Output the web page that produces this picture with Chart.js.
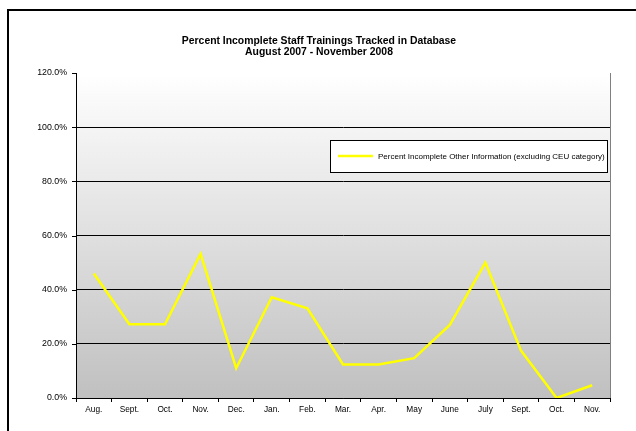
<!DOCTYPE html>
<html>
<head>
<meta charset="utf-8">
<script src="https://cdn.jsdelivr.net/npm/chart.js@4.4.1/dist/chart.umd.min.js"></script>
<style>
    html, body { margin: 0; padding: 0; background: #fff; }
    #wrap { width: 636px; height: 431px; }
</style>
</head>
<body>
<div id="wrap"><canvas id="trainingChart" width="636" height="431"></canvas></div>
<script>
// months Aug 2007 - Nov 2008 (no Aug 2008 in the source)
const months = ['Aug.', 'Sept.', 'Oct.', 'Nov.', 'Dec.', 'Jan.', 'Feb.', 'Mar.',
                'Apr.', 'May', 'June', 'July', 'Sept.', 'Oct.', 'Nov.'];
const pctIncomplete = [46.0, 27.2, 27.2, 53.2, 11.0, 37.2, 33.1, 12.4,
                       12.4, 14.7, 27.0, 50.0, 17.5, 0.0, 4.7];
const seriesName = 'Percent Incomplete Other Information (excluding CEU category)';
const titleLines = ['Percent Incomplete Staff Trainings Tracked in Database', 'August 2007 - November 2008'];
const yTicks = [0, 20, 40, 60, 80, 100, 120];

const fontFamily = '"Liberation Sans", Arial, sans-serif';

// frame, gradient plot background, title and the inner legend box
const excelLook = {
    id: 'excelLook',
    beforeDraw(chart) {
        const ctx = chart.ctx;
        const a = chart.chartArea;
        ctx.save();
        ctx.fillStyle = '#fff';
        ctx.fillRect(0, 0, chart.width, chart.height);
        ctx.strokeStyle = '#000';
        ctx.lineWidth = 2;
        ctx.strokeRect(8, 10, 700, 600);
        const g = ctx.createLinearGradient(0, a.top, 0, a.bottom);
        g.addColorStop(0, '#ffffff');
        g.addColorStop(1, '#c0c0c0');
        ctx.fillStyle = g;
        ctx.fillRect(a.left, a.top, a.right - a.left, a.bottom - a.top);

        // title is centred on the frame, not on the plot
        ctx.fillStyle = '#000';
        ctx.font = 'bold 10.4px ' + fontFamily;
        ctx.textAlign = 'center';
        ctx.textBaseline = 'middle';
        titleLines.forEach((line, i) => ctx.fillText(line, 319, 41 + i * 11));
        ctx.restore();
    },
    afterDatasetsDraw(chart) {
        const ctx = chart.ctx;
        const a = chart.chartArea;
        ctx.save();
        ctx.strokeStyle = '#808080';
        ctx.lineWidth = 1;
        ctx.beginPath();
        ctx.moveTo(a.right + 0.5, a.top);
        ctx.lineTo(a.right + 0.5, a.bottom);
        ctx.stroke();

        // legend box inside the plot
        const ds = chart.data.datasets[0];
        const bx = 330, by = 140, bw = 277, bh = 32;
        ctx.fillStyle = '#fff';
        ctx.fillRect(bx, by, bw, bh);
        ctx.strokeStyle = '#000';
        ctx.strokeRect(bx + 0.5, by + 0.5, bw, bh);
        ctx.strokeStyle = ds.borderColor;
        ctx.lineWidth = 2.5;
        ctx.beginPath();
        ctx.moveTo(338, by + 16);
        ctx.lineTo(373, by + 16);
        ctx.stroke();
        ctx.fillStyle = '#000';
        ctx.font = '8px ' + fontFamily;
        ctx.textBaseline = 'middle';
        ctx.fillText(ds.label, 378, by + 16.5);
        ctx.restore();
    },
    afterDraw(chart) {
        // short tick marks left of the y axis, including the top one
        const ctx = chart.ctx;
        const y = chart.scales.y;
        ctx.save();
        ctx.strokeStyle = '#000';
        ctx.lineWidth = 1;
        ctx.beginPath();
        y.ticks.forEach(t => {
            const py = Math.round(y.getPixelForValue(t.value)) + 0.5;
            ctx.moveTo(y.right - 4, py);
            ctx.lineTo(y.right, py);
        });
        ctx.stroke();
        ctx.restore();
    }
};

const ctx = document.getElementById('trainingChart').getContext('2d');
const trainingChart = new Chart(ctx, {
    type: 'line',
    data: {
        labels: months,
        datasets: [{
            label: seriesName,
            data: pctIncomplete,
            borderColor: '#ffff00',
            borderWidth: 2.5,
            pointRadius: 0,
            tension: 0,
            fill: false
        }]
    },
    options: {
        responsive: false,
        animation: false,
        layout: { padding: { left: 0, right: 26, top: 73, bottom: 0 } },
        plugins: {
            legend: { display: false },
            tooltip: { enabled: false },
            title: { display: false }
        },
        scales: {
            x: {
                offset: true,
                grid: {
                    offset: true,
                    drawOnChartArea: false,
                    drawTicks: true,
                    tickLength: 4,
                    color: '#000'
                },
                border: { color: '#000', width: 1 },
                ticks: {
                    autoSkip: false,
                    maxRotation: 0,
                    padding: 3,
                    color: '#000',
                    font: { family: fontFamily, size: 8.3 }
                },
                afterFit(scale) { scale.height = 33; }
            },
            y: {
                min: 0,
                max: 120,
                afterBuildTicks(scale) { scale.ticks = yTicks.map(v => ({ value: v })); },
                grid: {
                    // no line across the top edge of the plot
                    color: c => (c.tick && c.tick.value === 120 ? 'rgba(0,0,0,0)' : '#000'),
                    lineWidth: 1,
                    drawTicks: false
                },
                border: { color: '#000', width: 1 },
                ticks: {
                    padding: 9,
                    color: '#000',
                    font: { family: fontFamily, size: 8.8 },
                    callback: v => v.toFixed(1) + '%'
                },
                afterFit(scale) { scale.width = 76; }
            }
        }
    },
    plugins: [excelLook]
});
</script>
</body>
</html>
